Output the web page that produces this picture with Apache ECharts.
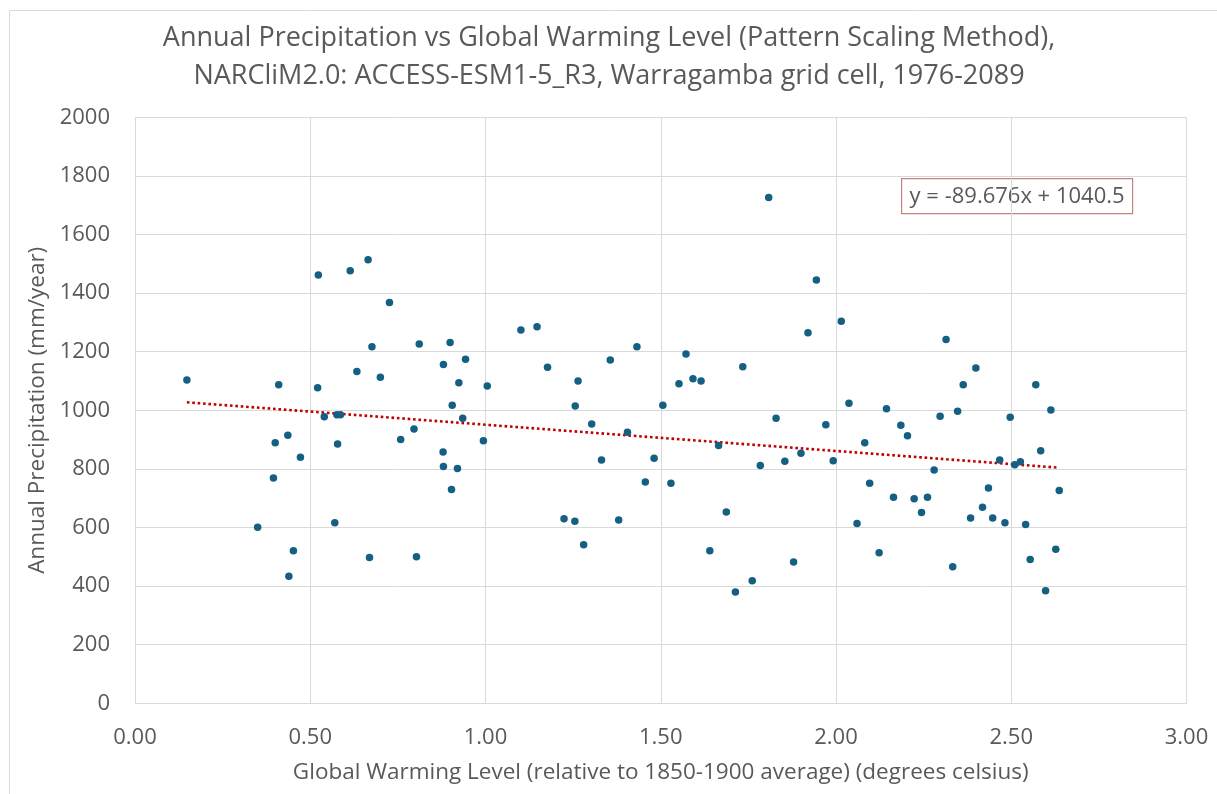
<!DOCTYPE html>
<html>
<head>
<meta charset="utf-8">
<script src="https://cdn.jsdelivr.net/npm/echarts@6/dist/echarts.min.js"></script>
<style>
html,body{margin:0;padding:0;background:#fff;}
#chart{width:1217px;height:794px;}
</style>
</head>
<body>
<div id="chart"></div>
<script>
// Chart title lines
const titleLines = [
  'Annual Precipitation vs Global Warming Level (Pattern Scaling Method),',
  'NARCliM2.0: ACCESS-ESM1-5_R3, Warragamba grid cell, 1976-2089'
];
// Global warming level (deg C) for each year
const gwl = [
  0.148,0.410,0.521,0.523,0.614,0.665,0.726,0.676,0.633,0.700,
  0.811,0.899,0.880,0.943,0.924,1.005,1.101,1.147,1.177,0.905,
  0.935,0.540,0.576,0.586,0.400,0.436,0.578,0.472,0.395,0.758,
  0.796,0.994,0.879,0.880,0.920,0.903,0.350,0.570,0.452,0.439,
  0.669,0.803,
  1.264,1.256,1.356,1.432,1.506,1.572,1.552,1.592,1.615,1.734,
  1.808,1.944,1.920,2.015,2.037,1.829,
  1.303,1.405,1.331,1.481,1.456,1.529,1.224,1.255,1.380,1.280,
  1.665,1.687,1.640,1.713,1.761,1.784,1.854,1.900,1.879,1.971,
  1.992,2.082,2.096,2.060,
  2.314,2.399,2.363,2.570,2.144,2.297,2.347,2.497,2.613,
  2.185,2.204,2.280,2.467,2.510,2.526,2.584,2.164,2.223,2.261,
  2.244,2.435,2.418,2.384,2.447,2.482,2.541,2.637,2.123,2.333,
  2.554,2.627,2.598
];
// Annual precipitation (mm/year)
const precip = [
  1103,1087,1077,1462,1476,1514,1368,1217,1132,1113,
  1226,1231,1156,1174,1094,1083,1274,1285,1147,1017,
  973,978,985,985,889,915,885,840,769,900,
  936,896,858,808,801,730,601,616,521,434,
  498,500,
  1100,1015,1172,1217,1017,1192,1091,1108,1100,1149,
  1726,1445,1265,1304,1024,973,
  953,925,830,836,755,751,630,621,626,541,
  880,653,521,380,418,812,826,853,482,951,
  828,889,751,614,
  1242,1144,1087,1087,1005,980,997,976,1001,
  949,913,796,830,814,824,862,703,698,703,
  651,735,669,632,632,616,610,726,514,466,
  491,526,384
];
// Linear trendline as reported on the chart
const trendSlope = [-89.676];
const trendIntercept = [1040.5];
const xTicks = [0, 0.5, 1, 1.5, 2, 2.5, 3];
const yTicks = [0, 200, 400, 600, 800, 1000, 1200, 1400, 1600, 1800, 2000];

const points = gwl.map((x, i) => [x, precip[i]]);
const xMin = Math.min(...gwl), xMax = Math.max(...gwl);
const trend = [
  [xMin, trendSlope[0] * xMin + trendIntercept[0]],
  [xMax, trendSlope[0] * xMax + trendIntercept[0]]
];
const eqText = 'y = ' + trendSlope[0] + 'x + ' + trendIntercept[0];

const FONT = 'Open Sans';
const TXT = '#595959';
const GRID = '#d9d9d9';

const chart = echarts.init(document.getElementById('chart'), null, {renderer: 'canvas'});
chart.setOption({
  backgroundColor: '#ffffff',
  animation: false,
  grid: {left: 135, right: 30.5, top: 117.3, bottom: 90.7, containLabel: false},
  xAxis: {
    type: 'value',
    min: xTicks[0], max: xTicks[xTicks.length - 1], interval: 0.5,
    name: 'Global Warming Level (relative to 1850-1900 average) (degrees celsius)',
    nameLocation: 'middle', nameGap: 58,
    nameTextStyle: {fontFamily: FONT, fontSize: 22.5, color: TXT},
    axisLine: {show: true, lineStyle: {color: GRID, width: 1}},
    axisTick: {show: false},
    axisLabel: {fontFamily: FONT, fontSize: 22, color: TXT, margin: 23,
      formatter: v => v.toFixed(2)},
    splitLine: {show: true, lineStyle: {color: GRID, width: 1}}
  },
  yAxis: {
    type: 'value',
    min: yTicks[0], max: yTicks[yTicks.length - 1], interval: 200,
    name: 'Annual Precipitation (mm/year)',
    nameLocation: 'middle', nameGap: 85,
    nameTextStyle: {fontFamily: FONT, fontSize: 22.5, color: TXT},
    axisLine: {show: true, lineStyle: {color: GRID, width: 1}},
    axisTick: {show: false},
    axisLabel: {fontFamily: FONT, fontSize: 22, color: TXT, margin: 25,
      formatter: v => String(v)},
    splitLine: {show: true, lineStyle: {color: GRID, width: 1}}
  },
  graphic: [
    {
      type: 'rect', left: 7, top: 8, silent: true, z: -10,
      shape: {width: 1230, height: 785},
      style: {fill: 'none', stroke: '#d9d9d9', lineWidth: 1}
    },
    {
      type: 'text', x: 609, y: 38, silent: true,
      style: {text: titleLines[0], fontFamily: FONT, fontSize: 27, fill: TXT,
              align: 'center', verticalAlign: 'middle'}
    },
    {
      type: 'text', x: 609, y: 76, silent: true,
      style: {text: titleLines[1], fontFamily: FONT, fontSize: 27, fill: TXT,
              align: 'center', verticalAlign: 'middle'}
    },
    {
      type: 'group', left: 901, top: 178,
      children: [
        {type: 'rect', shape: {x: 0, y: 0, width: 231, height: 35},
         style: {fill: '#ffffff', stroke: '#c08580', lineWidth: 1.2}},
        {type: 'text', x: 115.5, y: 18,
         style: {text: eqText, fontFamily: FONT, fontSize: 22, fill: TXT,
                 align: 'center', verticalAlign: 'middle'}}
      ]
    }
  ],
  series: [
    {
      type: 'line',
      data: trend,
      symbol: 'none',
      z: 1,
      lineStyle: {color: '#C00000', width: 2.6, type: [2.6, 2.8], cap: 'butt'}
    },
    {
      type: 'scatter',
      data: points,
      symbol: 'circle',
      symbolSize: 7.5,
      z: 3,
      itemStyle: {color: '#156082', opacity: 1}
    }
  ]
});
</script>
</body>
</html>
